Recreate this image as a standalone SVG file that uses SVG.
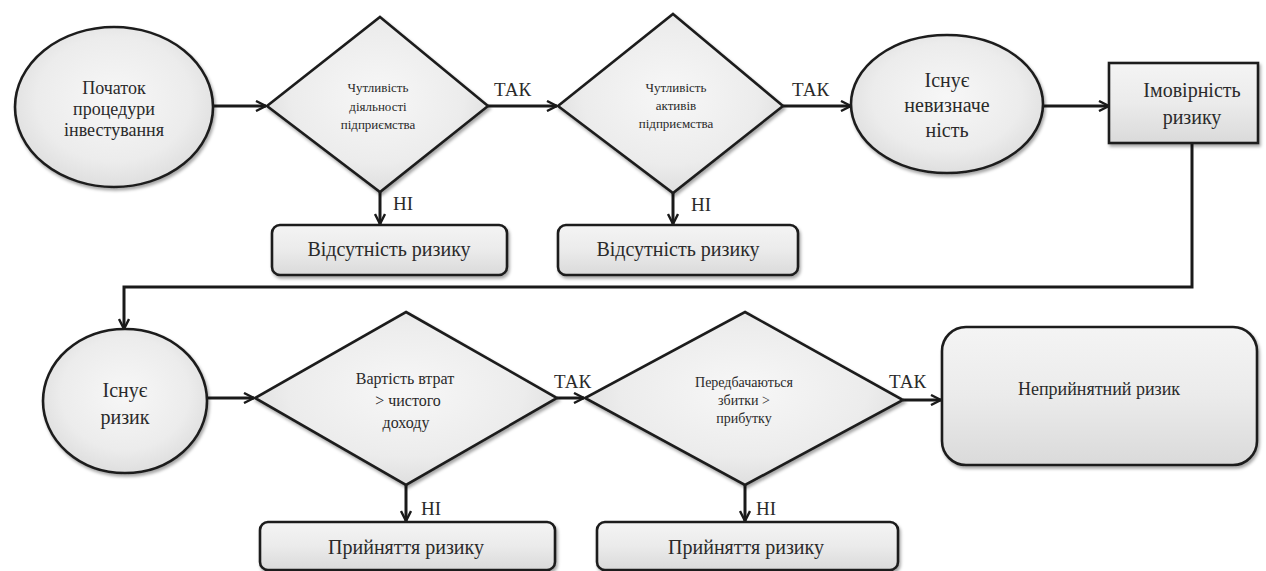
<svg xmlns="http://www.w3.org/2000/svg" width="1266" height="571" viewBox="0 0 1266 571">
<defs>
<radialGradient id="g" cx="50%" cy="45%" r="65%">
<stop offset="0" stop-color="#f7f7f7"/>
<stop offset="0.6" stop-color="#ececec"/>
<stop offset="1" stop-color="#d6d6d6"/>
</radialGradient>
<linearGradient id="gb" x1="0" y1="0" x2="0" y2="1">
<stop offset="0" stop-color="#f4f4f4"/>
<stop offset="0.5" stop-color="#ebebeb"/>
<stop offset="1" stop-color="#dadada"/>
</linearGradient>
<filter id="sh" x="-10%" y="-10%" width="125%" height="130%">
<feDropShadow dx="1.5" dy="2.5" stdDeviation="1.5" flood-color="#000" flood-opacity="0.35"/>
</filter>
<marker id="ar" viewBox="0 0 12 12" refX="11" refY="6" markerWidth="12" markerHeight="12" markerUnits="userSpaceOnUse" orient="auto">
<path d="M1,1 L11,6 L1,11" fill="none" stroke="#1a1a1a" stroke-width="2.4" stroke-linejoin="miter"/>
</marker>
<style>
.shape{fill:url(#g);stroke:#1e1e1e;stroke-width:2.6;filter:url(#sh)}
.box{fill:url(#gb);stroke:#1e1e1e;stroke-width:2.6;filter:url(#sh)}
.conn{fill:none;stroke:#1a1a1a;stroke-width:3}
text{font-family:"Times New Roman",Tinos,"Liberation Serif","Noto Serif","DejaVu Serif",serif;fill:#2a2a2a;text-anchor:middle}
.t20{font-size:20px}
.t18{font-size:18px}
.t13{font-size:13px}
.t14{font-size:14px}
.t16{font-size:16px}
.lbl{font-size:19px;text-anchor:start}
</style>
</defs>

<g id="connectors">
<line class="conn" x1="213" y1="106" x2="266" y2="106" marker-end="url(#ar)"/>
<line class="conn" x1="488" y1="106" x2="557" y2="106" marker-end="url(#ar)"/>
<line class="conn" x1="783" y1="106" x2="851" y2="106" marker-end="url(#ar)"/>
<line class="conn" x1="1043" y1="106" x2="1109" y2="106" marker-end="url(#ar)"/>
<line class="conn" x1="380" y1="192" x2="380" y2="224" marker-end="url(#ar)"/>
<line class="conn" x1="673" y1="193" x2="673" y2="224" marker-end="url(#ar)"/>
<polyline class="conn" points="1192,143 1192,287 124,287 124,329" marker-end="url(#ar)"/>
<line class="conn" x1="207" y1="398" x2="254" y2="398" marker-end="url(#ar)"/>
<line class="conn" x1="557" y1="398" x2="584" y2="398" marker-end="url(#ar)"/>
<line class="conn" x1="903" y1="400" x2="941" y2="400" marker-end="url(#ar)"/>
<line class="conn" x1="406" y1="485" x2="406" y2="521" marker-end="url(#ar)"/>
<line class="conn" x1="745" y1="485" x2="745" y2="521" marker-end="url(#ar)"/>
<text class="lbl" x="494" y="96">ТАК</text>
<text class="lbl" x="792" y="96">ТАК</text>
<text class="lbl" x="393" y="210">НІ</text>
<text class="lbl" x="691" y="211">НІ</text>
<text class="lbl" x="554" y="388">ТАК</text>
<text class="lbl" x="889" y="388">ТАК</text>
<text class="lbl" x="421" y="515">НІ</text>
<text class="lbl" x="756" y="515">НІ</text>
</g>

<g id="start">
<ellipse class="shape" cx="114" cy="107" rx="99" ry="80"/>
<text class="t18" x="114" y="94">Початок</text>
<text class="t18" x="114" y="115">процедури</text>
<text class="t18" x="114" y="136">інвестування</text>
</g>

<g id="d1">
<polygon class="shape" points="380,17 488,106 380,192 267,106"/>
<text class="t13" x="378" y="92">Чутливість</text>
<text class="t13" x="378" y="111">діяльності</text>
<text class="t13" x="378" y="129">підприємства</text>
</g>

<g id="no1">
<rect class="box" x="272" y="225" width="235" height="50" rx="8"/>
<text class="t20" x="389" y="256">Відсутність ризику</text>
</g>

<g id="d2">
<polygon class="shape" points="673,14 783,106 673,193 558,106"/>
<text class="t13" x="676" y="92">Чутливість</text>
<text class="t13" x="676" y="110">активів</text>
<text class="t13" x="676" y="128">підприємства</text>
</g>

<g id="no2">
<rect class="box" x="558" y="225" width="240" height="50" rx="8"/>
<text class="t20" x="678" y="256">Відсутність ризику</text>
</g>

<g id="uncert">
<ellipse class="shape" cx="947" cy="104" rx="96" ry="69"/>
<text class="t20" x="947" y="87">Існує</text>
<text class="t20" x="947" y="112">невизначе</text>
<text class="t20" x="947" y="137">ність</text>
</g>

<g id="prob">
<rect class="box" x="1109" y="63" width="149" height="80"/>
<text class="t20" x="1192" y="97">Імовірність</text>
<text class="t20" x="1192" y="124">ризику</text>
</g>

<g id="risk">
<ellipse class="shape" cx="125" cy="401" rx="82" ry="72"/>
<text class="t20" x="125" y="397">Існує</text>
<text class="t20" x="125" y="424">ризик</text>
</g>

<g id="d3">
<polygon class="shape" points="406,312 557,398 406,485 255,398"/>
<text class="t16" x="405" y="384">Вартість втрат</text>
<text class="t16" x="408" y="406">&gt; чистого</text>
<text class="t16" x="406" y="428">доходу</text>
</g>

<g id="acc1">
<rect class="box" x="260" y="522" width="295" height="48" rx="8"/>
<text class="t20" x="406" y="554">Прийняття ризику</text>
</g>

<g id="d4">
<polygon class="shape" points="745,312 903,400 745,485 585,398"/>
<text class="t14" x="744" y="387">Передбачаються</text>
<text class="t14" x="744" y="405">збитки &gt;</text>
<text class="t14" x="744" y="423">прибутку</text>
</g>

<g id="acc2">
<rect class="box" x="597" y="522" width="301" height="48" rx="8"/>
<text class="t20" x="746" y="554">Прийняття ризику</text>
</g>

<g id="unacc">
<rect class="box" x="942" y="327" width="315" height="138" rx="24"/>
<text class="t18" x="1099" y="395">Неприйнятний ризик</text>
</g>
</svg>
